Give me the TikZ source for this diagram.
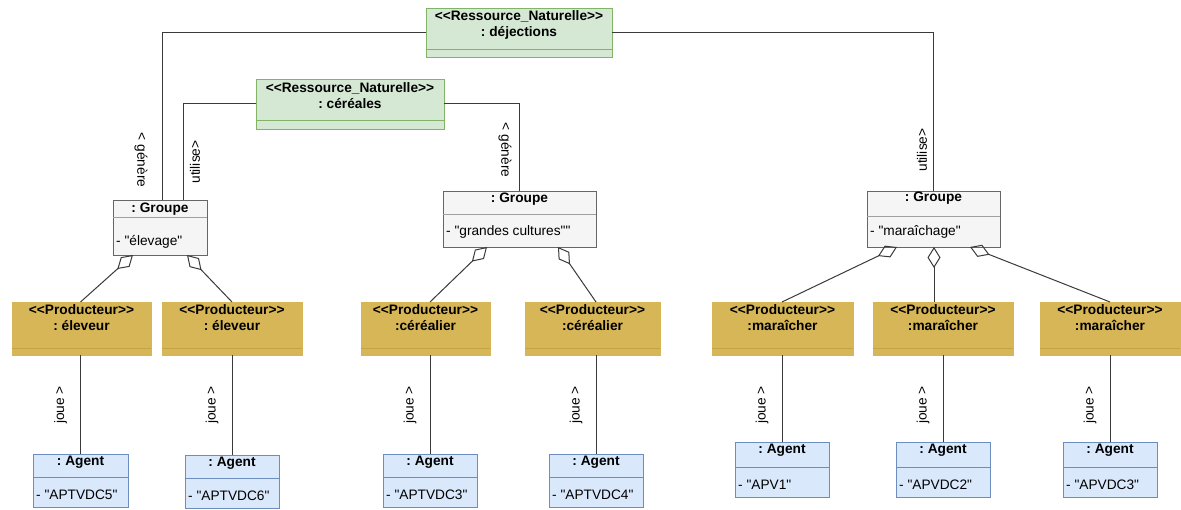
\documentclass[tikz,border=0pt]{standalone}
\usepackage{fontspec}
\setmainfont{Liberation Sans}[Ligatures=TeXOff]
\usetikzlibrary{arrows.meta,calc}
\frenchspacing
\definecolor{grnF}{HTML}{D5E8D4}
\definecolor{grnD}{HTML}{82B366}
\definecolor{gryF}{HTML}{F5F5F5}
\definecolor{gryD}{HTML}{666666}
\definecolor{grySep}{HTML}{A0A0A0}
\definecolor{gldF}{HTML}{D6B656}
\definecolor{gldD}{HTML}{C4A344}
\definecolor{bluF}{HTML}{DAE8FC}
\definecolor{bluD}{HTML}{6C8EBF}
\definecolor{lnC}{HTML}{3A3A3A}
\tikzset{
  box/.style={inner sep=0pt, outer sep=0pt, anchor=north west, line width=0.9pt},
  resbox/.style={box, fill=grnF, draw=grnD},
  grpbox/.style={box, fill=gryF, draw=gryD},
  prodbox/.style={box, fill=gldF, draw=gldF},
  agtbox/.style={box, fill=bluF, draw=bluD},
  ttl/.style={font=\fontsize{13.7}{16}\selectfont\bfseries, align=center, inner sep=0pt},
  attr/.style={font=\fontsize{13.7}{16}\selectfont, anchor=west, inner sep=0pt},
  lbl/.style={font=\fontsize{13.7}{16}\selectfont, inner sep=0pt},
  conn/.style={draw=lnC, line width=1pt},
  agg/.style={conn, -{Diamond[open, length=21pt, width=13pt, line width=1pt]}},
}
% name, style, left, top, width, height, separator offset, separator colour
\newcommand\ubox[8]{%
  \node[#2, minimum width=#5pt, minimum height=#6pt] (#1) at (#3,#4) {};
  \draw[#8, line width=0.8pt] ([yshift=-#7pt]#1.north west) -- ([yshift=-#7pt]#1.north east);}
\begin{document}
\begin{tikzpicture}[x=1pt, y=-1pt]
\useasboundingbox[fill=white] (0,0) rectangle (1181,510);

% resources
\ubox{dej}{resbox}{426}{8}{186}{49}{41}{grnD}
\node[ttl] (dej-t) at ([yshift=-16.5pt]dej.north) {<<Ressource\_Naturelle>>\\: déjections};
\ubox{cer}{resbox}{256}{79}{188}{50}{41}{grnD}
\node[ttl] (cer-t) at ([yshift=-16.5pt]cer.north) {<<Ressource\_Naturelle>>\\: céréales};

% groups
\ubox{elev}{grpbox}{113}{200}{94}{55}{17}{grySep}
\node[ttl] (elev-t) at ([yshift=-9pt]elev.north) {: Groupe};
\node[attr] (elev-a) at ([xshift=3pt,yshift=-42pt]elev.north west) {- "élevage"};
\ubox{gc}{grpbox}{443}{191}{153}{56}{23}{grySep}
\node[ttl] (gc-t) at ([yshift=-8pt]gc.north) {: Groupe};
\node[attr] (gc-a) at ([xshift=3pt,yshift=-41pt]gc.north west) {- "grandes cultures""};
\ubox{mara}{grpbox}{867}{191}{133}{56}{25}{grySep}
\node[ttl] (mara-t) at ([yshift=-7.5pt]mara.north) {: Groupe};
\node[attr] (mara-a) at ([xshift=3pt,yshift=-41pt]mara.north west) {- "maraîchage"};

% producers
\ubox{p1}{prodbox}{12}{302}{139}{53}{46}{gldD}
\ubox{p2}{prodbox}{162}{302}{140}{53}{46}{gldD}
\ubox{p3}{prodbox}{361}{302}{129}{53}{46}{gldD}
\ubox{p4}{prodbox}{525}{302}{135}{53}{46}{gldD}
\ubox{p5}{prodbox}{712}{302}{141}{53}{46}{gldD}
\ubox{p6}{prodbox}{873}{302}{140}{53}{46}{gldD}
\ubox{p7}{prodbox}{1040}{302}{140}{53}{46}{gldD}
\node[ttl] (p1-t) at ([yshift=-16pt]p1.north) {<<Producteur>>\\: éleveur};
\node[ttl] (p2-t) at ([yshift=-16pt]p2.north) {<<Producteur>>\\: éleveur};
\node[ttl] (p3-t) at ([yshift=-16pt]p3.north) {<<Producteur>>\\:céréalier};
\node[ttl] (p4-t) at ([yshift=-16pt]p4.north) {<<Producteur>>\\:céréalier};
\node[ttl] (p5-t) at ([yshift=-16pt]p5.north) {<<Producteur>>\\:maraîcher};
\node[ttl] (p6-t) at ([yshift=-16pt]p6.north) {<<Producteur>>\\:maraîcher};
\node[ttl] (p7-t) at ([yshift=-16pt]p7.north) {<<Producteur>>\\:maraîcher};

% agents
\ubox{a1}{agtbox}{33}{454}{95}{53}{23}{bluD}
\ubox{a2}{agtbox}{185}{455}{94}{53}{23}{bluD}
\ubox{a3}{agtbox}{383}{454}{94}{53}{23}{bluD}
\ubox{a4}{agtbox}{549}{454}{94}{53}{23}{bluD}
\ubox{a5}{agtbox}{735}{442}{94}{55}{25}{bluD}
\ubox{a6}{agtbox}{896}{442}{94}{55}{25}{bluD}
\ubox{a7}{agtbox}{1063}{442}{94}{55}{25}{bluD}
\foreach \n/\v/\t/\a in {a1/APTVDC5/8/41, a2/APTVDC6/8/41, a3/APTVDC3/8/41, a4/APTVDC4/8/41, a5/APV1/8/43, a6/APVDC2/8/43, a7/APVDC3/8/43}{
  \node[ttl] (\n-t) at ([yshift=-\t pt]\n.north) {: Agent};
  \node[attr] (\n-a) at ([xshift=3pt,yshift=-\a pt]\n.north west) {- "\v"};
}

% resource connectors
\coordinate (elevG) at ($(elev.north west)+(49,0)$);
\coordinate (elevU) at ($(elev.north west)+(70,0)$);
\draw[conn] (dej.west) -| (elevG);
\draw[conn] (dej.east) -| (mara.north);
\draw[conn] (cer.west) -| (elevU);
\draw[conn] (cer.east) -| (gc.north);
\node[lbl, rotate=-90] (lg1) at (141,160) {< génère};
\node[lbl, rotate=90] (lu1) at (195,162) {utilise>};
\node[lbl, rotate=-90] (lg2) at (505,150) {< génère};
\node[lbl, rotate=90] (lu2) at (922,150) {utilise>};

% aggregation connectors
\coordinate (elevA) at ($(elev.south west)+(20,0)$);
\coordinate (elevB) at ($(elev.south west)+(74,0)$);
\coordinate (gcA) at ($(gc.south west)+(44,0)$);
\coordinate (gcB) at ($(gc.south west)+(115,0)$);
\coordinate (maraA) at ($(mara.south west)+(30,0)$);
\coordinate (maraB) at ($(mara.south west)+(67,0)$);
\coordinate (maraC) at ($(mara.south west)+(103,0)$);
\draw[agg] (a1.north |- p1.north) -- (elevA);
\draw[agg] (a2.north |- p2.north) -- (elevB);
\draw[agg] (a3.north |- p3.north) -- (gcA);
\draw[agg] (a4.north |- p4.north) -- (gcB);
\draw[agg] (a5.north |- p5.north) -- (maraA);
\draw[agg] (maraB |- p6.north) -- (maraB);
\draw[agg] (a7.north |- p7.north) -- (maraC);

% joue connectors
\foreach \a/\p in {a1/p1, a2/p2, a3/p3, a4/p4, a5/p5, a6/p6, a7/p7}{
  \draw[conn] (\a.north) -- (\a.north |- \p.south);
  \node[lbl, rotate=90] (\a-j) at ($(\a.north |- 0,405)+(-20,0)$) {joue >};
}
\end{tikzpicture}
\end{document}
